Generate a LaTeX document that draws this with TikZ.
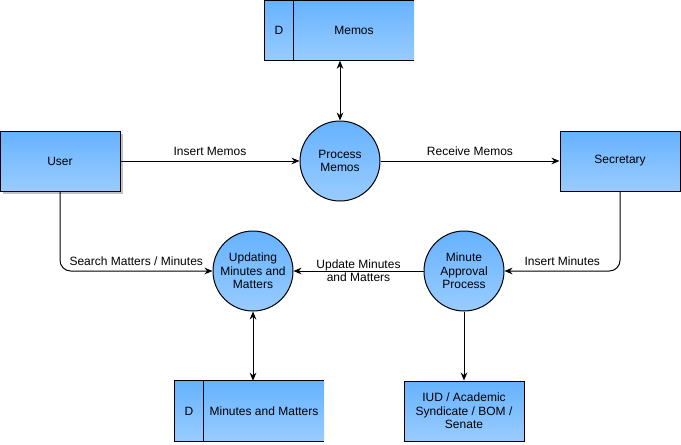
\documentclass[tikz,border=0pt]{standalone}
\usepackage{fontspec}
\setmainfont{Liberation Sans}
\usetikzlibrary{arrows.meta, positioning, shadows}
\definecolor{dfdtop}{HTML}{66B2FF}
\definecolor{dfdbot}{HTML}{99CCFF}
\definecolor{dfdshadow}{HTML}{B3B3B3}

\begin{document}
\begin{tikzpicture}[
  x=0.75pt, y=-0.75pt,
  every node/.style={font=\fontsize{9}{10}\selectfont},
  entity/.style={rectangle, draw=black, line width=0.75pt, top color=dfdtop, bottom color=dfdbot, minimum width=90pt, minimum height=45pt, align=center, inner sep=0pt},
  process/.style={circle, draw=black, line width=0.75pt, top color=dfdtop, bottom color=dfdbot, minimum size=60pt, align=center, inner sep=0pt},
  store/.style={rectangle, top color=dfdtop, bottom color=dfdbot, minimum height=45pt, align=center, inner sep=0pt},
  flow/.style={line width=0.75pt, -{Stealth[length=6pt, width=5pt]}},
  biflow/.style={line width=0.75pt, {Stealth[length=6pt, width=5pt]}-{Stealth[length=6pt, width=5pt]}},
]
\useasboundingbox (0,0) rectangle (681,444);

% external entities
\node[entity, drop shadow={shadow xshift=2pt, shadow yshift=-2pt, fill=dfdshadow, opacity=0.8}] (user) at (60,161) {User};
\node[entity] (secretary) at (620,161) {Secretary};
\node[entity] (iud) at (464,411) {IUD / Academic\\Syndicate / BOM /\\Senate};

% processes
\node[process] (procmemos) at (340,161) {Process\\Memos};
\node[process] (updating) at (253,271) {Updating\\Minutes and\\Matters};
\node[process] (approval) at (464,271) {Minute\\Approval\\Process};

% data stores
\node[store, minimum width=90pt] (memos) at (354,30.5) {Memos};
\node[store, minimum width=21.75pt, anchor=east] (memosd) at (memos.west) {D};
\draw[line width=0.75pt] (memos.north east) -- (memosd.north west) -- (memosd.south west) -- (memos.south east);
\draw[line width=0.75pt] (memosd.north east) -- (memosd.south east);

\node[store, minimum width=90pt] (mmstore) at (264,411) {Minutes and Matters};
\node[store, minimum width=21.75pt, anchor=east] (mmstored) at (mmstore.west) {D};
\draw[line width=0.75pt] (mmstore.north east) -- (mmstored.north west) -- (mmstored.south west) -- (mmstore.south east);
\draw[line width=0.75pt] (mmstored.north east) -- (mmstored.south east);

% data flows
\draw[flow] (user) -- node[above] {Insert Memos} (procmemos);
\draw[flow] (procmemos) -- node[above] {Receive Memos} (secretary);
\draw[biflow] (procmemos |- memos.south) -- (procmemos.north);
\draw[flow, rounded corners=8pt] (user.south) |- node[pos=0.75, above] {Search Matters / Minutes} (updating.west);
\draw[flow, rounded corners=8pt] (secretary.south) |- node[pos=0.75, above] {Insert Minutes} (approval.east);
\draw[flow] (approval) -- node[align=center] {Update Minutes\\and Matters} (updating);
\draw[biflow] (updating.south) -- (updating |- mmstore.north);
\draw[flow] (approval) -- (iud);

\end{tikzpicture}
\end{document}
